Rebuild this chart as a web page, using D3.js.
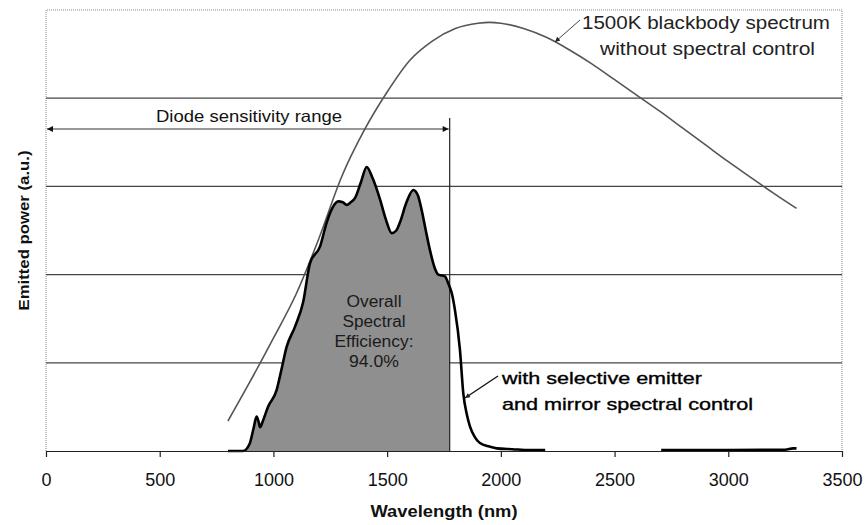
<!DOCTYPE html>
<html>
<head>
<meta charset="utf-8">
<script src="https://cdn.jsdelivr.net/npm/d3@7"></script>
<style>
  body { margin: 0; background: #fff; }
  text { font-family: "Liberation Sans", Arial, sans-serif; }
</style>
</head>
<body>
<svg id="chart" width="867" height="525"></svg>
<script>
// Wavelength axis ticks (nm)
const xTicks = [0, 500, 1000, 1500, 2000, 2500, 3000, 3500];
// Horizontal grid levels (arbitrary units)
const gridLevels = [1, 2, 3, 4];

// 1500K blackbody spectrum, no spectral control
const bbWavelength = [800, 900, 1000, 1100, 1200, 1300, 1400, 1500, 1600, 1700, 1800, 1900, 1950, 2000, 2100, 2200, 2300, 2400, 2500, 2600, 2700, 2800, 2900, 3000, 3100, 3200, 3300];
const bbPower      = [0.34, 0.80, 1.28, 1.78, 2.41, 3.11, 3.64, 4.07, 4.43, 4.65, 4.79, 4.85, 4.86, 4.85, 4.79, 4.69, 4.55, 4.39, 4.21, 4.03, 3.85, 3.66, 3.47, 3.28, 3.10, 2.92, 2.75];

// Selective emitter + mirror spectral control (null = no data)
const emWavelength = [800, 866, 895, 912, 926, 935, 941, 955, 976, 1014, 1035, 1058, 1095, 1130, 1161, 1205, 1234, 1260, 1285, 1305, 1322, 1340, 1359, 1385, 1410, 1435, 1469, 1495, 1520, 1540, 1556, 1585, 1615, 1635, 1652, 1670, 1688, 1710, 1725, 1754, 1769, 1775, 1785, 1798, 1820, 1835, 1850, 1864, 1885, 1908, 1950, 1982, 2050, 2128, 2195, 2450, 2705, 3000, 3250, 3285, 3300];
const emPower      = [0, 0, 0.08, 0.25, 0.39, 0.33, 0.27, 0.35, 0.50, 0.69, 0.92, 1.18, 1.41, 1.68, 2.13, 2.32, 2.59, 2.76, 2.83, 2.82, 2.79, 2.82, 2.87, 3.05, 3.22, 3.10, 2.85, 2.62, 2.47, 2.50, 2.59, 2.82, 2.96, 2.90, 2.73, 2.50, 2.28, 2.07, 2.00, 1.98, 1.90, 1.86, 1.78, 1.60, 1.15, 0.65, 0.42, 0.28, 0.16, 0.09, 0.05, 0.03, 0.02, 0.01, 0.01, null, 0.01, 0.01, 0.015, 0.03, 0.03];

// Photodiode sensitivity cutoff (nm)
const diodeCutoff = 1775;
const efficiencyLines = ["Overall", "Spectral", "Efficiency:", "94.0%"];

const svg = d3.select("#chart");
const margin = { left: 46, right: 25, top: 10, bottom: 74 };
const W = 867, H = 525;

const x = d3.scaleLinear().domain([0, 3500]).range([margin.left, W - margin.right]);
const y = d3.scaleLinear().domain([0, 5]).range([H - margin.bottom, margin.top]);

// Text helper: font size sets the glyph height, width sets the drawn length
function label(parent, str, px, py, size, width, anchor, opts = {}) {
  const t = parent.append("text")
    .attr("x", px).attr("y", py)
    .attr("font-size", size)
    .attr("text-anchor", anchor || "start")
    .attr("fill", opts.fill || "#111")
    .attr("font-weight", opts.weight || "normal")
    .text(str);
  if (width) t.attr("textLength", width).attr("lengthAdjust", "spacingAndGlyphs");
  if (opts.stroke) t.attr("stroke", opts.fill || "#111").attr("stroke-width", opts.stroke);
  return t;
}

const defs = svg.append("defs");
defs.append("marker").attr("id", "arrowR")
  .attr("viewBox", "0 0 10 10").attr("refX", 10).attr("refY", 5)
  .attr("markerWidth", 8).attr("markerHeight", 6).attr("markerUnits", "userSpaceOnUse")
  .attr("orient", "auto")
  .append("path").attr("d", "M0,0 L10,5 L0,10 Z").attr("fill", "#111");
defs.append("marker").attr("id", "arrowL")
  .attr("viewBox", "0 0 10 10").attr("refX", 0).attr("refY", 5)
  .attr("markerWidth", 8).attr("markerHeight", 6).attr("markerUnits", "userSpaceOnUse")
  .attr("orient", "auto")
  .append("path").attr("d", "M10,0 L0,5 L10,10 Z").attr("fill", "#111");
defs.append("marker").attr("id", "arrowSmall")
  .attr("viewBox", "0 0 10 10").attr("refX", 10).attr("refY", 5)
  .attr("markerWidth", 7).attr("markerHeight", 5).attr("markerUnits", "userSpaceOnUse")
  .attr("orient", "auto")
  .append("path").attr("d", "M0,0 L10,5 L0,10 Z").attr("fill", "#222");

// Plot frame (dotted) on top, left and right
const [x0, x1] = x.range();
const [yb, yt] = y.range();
svg.append("path")
  .attr("d", `M${x0},${yb} L${x0},${yt} L${x1},${yt} L${x1},${yb}`)
  .attr("fill", "none").attr("stroke", "#888").attr("stroke-width", 1)
  .attr("stroke-dasharray", "1,1");

// Grid lines
svg.append("g").selectAll("line").data(gridLevels).join("line")
  .attr("x1", x0).attr("x2", x1)
  .attr("y1", d => y(d)).attr("y2", d => y(d))
  .attr("stroke", "#444").attr("stroke-width", 1.2);

const emData = emWavelength.map((w, i) => ({ w, v: emPower[i] }));
const bbData = bbWavelength.map((w, i) => ({ w, v: bbPower[i] }));

// Shaded area: emitter output inside the diode range
const inRange = emData.filter(d => d.v !== null && d.w <= diodeCutoff);
svg.append("path")
  .datum(inRange)
  .attr("d", d3.area().x(d => x(d.w)).y0(y(0)).y1(d => y(d.v)).curve(d3.curveMonotoneX))
  .attr("fill", "#8f8f8f");

// Diode cutoff vertical line
svg.append("line")
  .attr("x1", x(diodeCutoff)).attr("x2", x(diodeCutoff))
  .attr("y1", 118).attr("y2", y(0))
  .attr("stroke", "#222").attr("stroke-width", 1.2);

// Diode sensitivity range double arrow
svg.append("line")
  .attr("x1", x(0) + 1).attr("x2", x(diodeCutoff) - 1)
  .attr("y1", 129).attr("y2", 129)
  .attr("stroke", "#333").attr("stroke-width", 1.2)
  .attr("marker-start", "url(#arrowL)").attr("marker-end", "url(#arrowR)");
label(svg, "Diode sensitivity range", 156, 121.5, 16.5, 186, "start");

// Blackbody curve
svg.append("path")
  .datum(bbData)
  .attr("d", d3.line().x(d => x(d.w)).y(d => y(d.v)).curve(d3.curveMonotoneX))
  .attr("fill", "none").attr("stroke", "#555").attr("stroke-width", 1.6);

// Emitter curve
svg.append("path")
  .datum(emData)
  .attr("d", d3.line().defined(d => d.v !== null).x(d => x(d.w)).y(d => y(d.v)).curve(d3.curveMonotoneX))
  .attr("fill", "none").attr("stroke", "#000").attr("stroke-width", 2.6)
  .attr("stroke-linejoin", "round");

// X axis
const xAxis = svg.append("g").attr("transform", `translate(0,${y(0)})`)
  .call(d3.axisBottom(x).tickValues(xTicks).tickFormat(d3.format("d"))
    .tickSize(6).tickSizeOuter(0).tickPadding(16));
xAxis.select(".domain").attr("stroke", "#222").attr("stroke-width", 1.2);
xAxis.selectAll(".tick line").attr("stroke", "#222").attr("stroke-width", 1.2);
xAxis.selectAll(".tick text")
  .attr("font-family", "Liberation Sans, Arial, sans-serif")
  .attr("font-size", 18).attr("fill", "#111");

// Axis titles
label(svg, "Wavelength (nm)", (x0 + x1) / 2, 517, 16.5, 147, "middle", { weight: "bold" });
const yTitle = svg.append("g").attr("transform", `translate(29,${(yt + yb) / 2}) rotate(-90)`);
label(yTitle, "Emitted power (a.u.)", 0, 0, 15.5, 160, "middle", { weight: "bold" });

// Efficiency label inside the shaded area
const effWidths = [55, 63, 79, 50];
efficiencyLines.forEach((s, i) =>
  label(svg, s, 374, 306.5 + i * 20, 16, effWidths[i], "middle", { fill: "#1a1a1a" }));

// Blackbody annotation
svg.append("line").attr("x1", 580).attr("y1", 20).attr("x2", 555).attr("y2", 42)
  .attr("stroke", "#444").attr("stroke-width", 1).attr("marker-end", "url(#arrowSmall)");
label(svg, "1500K blackbody spectrum", 582, 28.5, 17.5, 248, "start", { fill: "#222" });
label(svg, "without spectral control", 600, 55, 17.5, 215, "start", { fill: "#222" });

// Emitter annotation
svg.append("line").attr("x1", 498).attr("y1", 376).attr("x2", 465).attr("y2", 398)
  .attr("stroke", "#111").attr("stroke-width", 1.3).attr("marker-end", "url(#arrowSmall)");
label(svg, "with selective emitter", 502, 383.5, 17, 200, "start", { fill: "#000", stroke: 0.35 });
label(svg, "and mirror spectral control", 502, 410, 17, 251, "start", { fill: "#000", stroke: 0.35 });
</script>
</body>
</html>
